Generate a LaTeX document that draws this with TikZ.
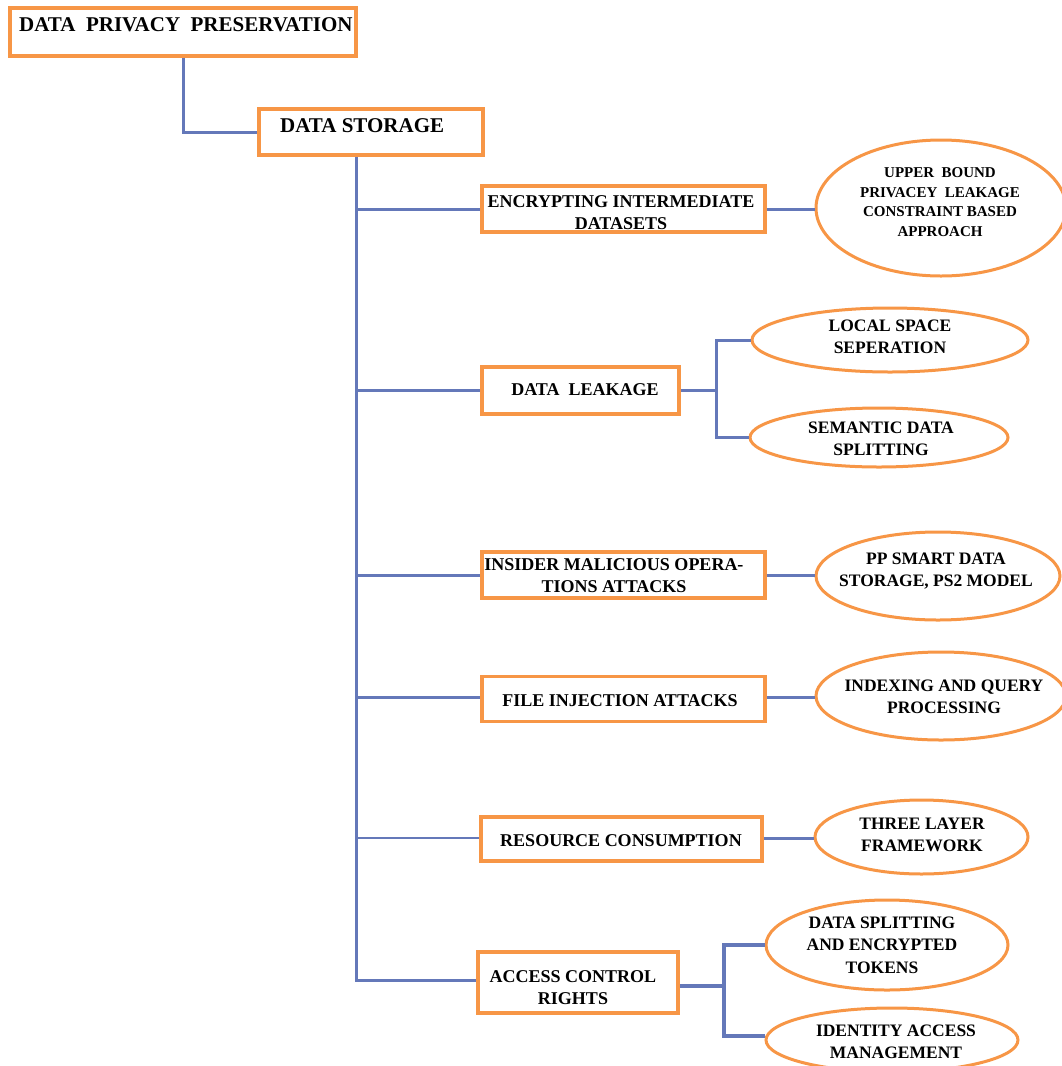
\documentclass[tikz,border=0pt]{standalone}
\usepackage{fontspec}
\setmainfont{Liberation Serif}
\usetikzlibrary{shapes.geometric,calc}
\definecolor{orng}{RGB}{247,150,70}
\definecolor{bline}{RGB}{100,120,185}
\newcommand\mybxf{\bfseries\fontsize{18}{22}\selectfont}
\newcommand\myelf{\bfseries\fontsize{17.5}{22.5}\selectfont}
\newcommand\myels{\bfseries\fontsize{15}{19.5}\selectfont}
\newcommand\mytopf{\bfseries\fontsize{21}{25}\selectfont}
\begin{document}
\begin{tikzpicture}[x=1pt,y=-1pt,
  obox/.style={draw=orng, line width=3.5pt, rectangle, inner sep=0pt, fill=white},
  oell/.style={draw=orng, line width=3pt, ellipse, inner sep=0pt, fill=white},
  conn/.style={draw=bline, line width=3pt},
  btxt/.style={font=\mybxf, align=center, inner sep=0pt},
  etxt/.style={font=\myelf, align=center, inner sep=0pt},
  stxt/.style={font=\myels, align=center, inner sep=0pt},
  ttxt/.style={font=\mytopf, inner sep=0pt}]
\useasboundingbox (0,0) rectangle (1062,1066);
\clip (0,0) rectangle (1062,1066);
% ---- shapes ----
\node[obox, minimum width=346pt, minimum height=48pt] (root) at (183,32) {};
\node[obox, minimum width=224pt, minimum height=46pt] (store) at (371,132) {};
\node[obox, minimum width=283pt, minimum height=46pt] (enc) at (623.5,209) {};
\node[obox, minimum width=197pt, minimum height=47pt] (leak) at (580.5,390.5) {};
\node[obox, minimum width=283pt, minimum height=46pt] (ins) at (623.5,575) {};
\node[obox, minimum width=283pt, minimum height=45pt] (file) at (623.5,699) {};
\node[obox, minimum width=281pt, minimum height=44pt] (res) at (621.5,839) {};
\node[obox, minimum width=200pt, minimum height=61pt] (acc) at (578,982.5) {};
\node[oell, minimum width=250pt, minimum height=136pt] (e1) at (941,208) {};
\node[oell, minimum width=276pt, minimum height=64pt] (loc) at (890,340) {};
\node[oell, minimum width=258pt, minimum height=59pt] (sem) at (879,437.5) {};
\node[oell, minimum width=244pt, minimum height=88pt] (pp) at (938,576) {};
\node[oell, minimum width=250pt, minimum height=88pt] (idx) at (941,696) {};
\node[oell, minimum width=213pt, minimum height=74pt] (three) at (921.5,837) {};
\node[oell, minimum width=242pt, minimum height=90pt] (ds) at (887,945) {};
\node[oell, minimum width=252pt, minimum height=64pt] (iam) at (892,1040) {};
% ---- connectors ----
\coordinate (trunk) at ([xshift=-15pt]store.south);
\coordinate (lkj) at ([xshift=36pt]leak.east);
\coordinate (acj) at ([xshift=44pt,yshift=-3.5pt]acc.east);
\draw[conn] (root.south) |- (store.west);
\draw[conn] (trunk) |- ([yshift=2.5pt]acc.west);
\draw[conn] (trunk |- enc.west) -- (enc.west);
\draw[conn] (trunk |- leak.west) -- (leak.west);
\draw[conn] (trunk |- ins.west) -- (ins.west);
\draw[conn] ([yshift=2pt]file.west -| trunk) -- ([yshift=2pt]file.west);
\draw[conn, line width=1.8pt] ([yshift=1pt]res.west -| trunk) -- ([yshift=1pt]res.west);
\draw[conn] (enc.east) -- (enc.east -| e1.west);
\draw[conn] (leak.east) -- (lkj);
\draw[conn] (loc.west) -| (lkj) |- (sem.west);
\draw[conn] (ins.east) -- (ins.east -| pp.west);
\draw[conn] ([yshift=2pt]file.east) -- ([yshift=2pt]file.east -| idx.west);
\draw[conn] ([yshift=1pt]res.east) -- ([yshift=1pt]res.east -| three.west);
\draw[conn, line width=3.8pt] ([yshift=-3.5pt]acc.east) -- (acj);
\draw[conn, line width=3.8pt] (ds.west) -| (acj) |- ([yshift=4pt]iam.west);
% ---- texts ----
\node[ttxt, anchor=base west] (troot) at (19,31) {DATA\ \ PRIVACY\ \ PRESERVATION};
\node[ttxt, anchor=base west] (tstore) at (280,132) {DATA STORAGE};
\node[btxt] (tenc) at (621,213) {ENCRYPTING INTERMEDIATE\\DATASETS};
\node[btxt] (tleak) at (585,390) {DATA\ \ LEAKAGE};
\node[btxt] (tins) at (614,576) {INSIDER MALICIOUS OPERA-\\TIONS ATTACKS};
\node[btxt] (tfile) at (620,701) {FILE INJECTION ATTACKS};
\node[btxt] (tres) at (621,841) {RESOURCE CONSUMPTION};
\node[btxt] (tacc) at (573,988) {ACCESS CONTROL\\RIGHTS};
\node[stxt] (te1) at (940,202) {UPPER\ \ BOUND\\PRIVACEY\ \ LEAKAGE\\CONSTRAINT BASED\\APPROACH};
\node[etxt] (tloc) at (890,337) {LOCAL SPACE\\SEPERATION};
\node[etxt] (tsem) at (881,439) {SEMANTIC DATA\\SPLITTING};
\node[etxt] (tpp) at (936,571) {PP SMART DATA\\STORAGE, PS2 MODEL};
\node[etxt] (tidx) at (944,697) {INDEXING AND QUERY\\PROCESSING};
\node[etxt] (tthree) at (922,835) {THREE LAYER\\FRAMEWORK};
\node[etxt] (tds) at (882,945) {DATA SPLITTING\\AND ENCRYPTED\\TOKENS};
\node[etxt] (tiam) at (896,1042) {IDENTITY ACCESS\\MANAGEMENT};
\end{tikzpicture}
\end{document}
